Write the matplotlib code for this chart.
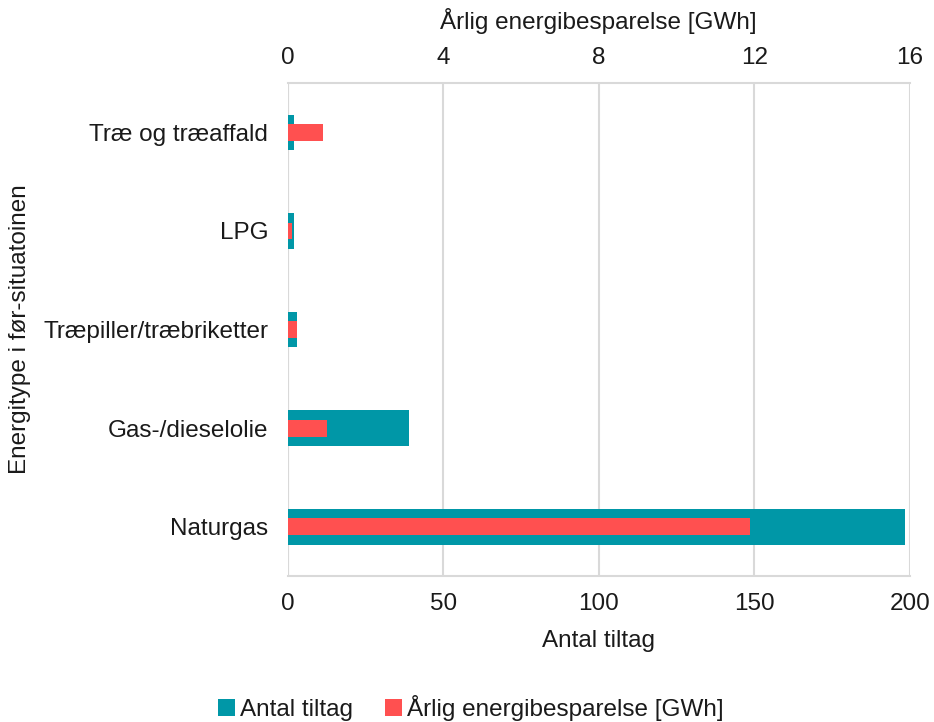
import matplotlib
matplotlib.use("Agg")
import matplotlib.pyplot as plt
import numpy as np

plt.rcParams['font.family'] = ['Liberation Sans', 'DejaVu Sans']

# data (top to bottom as in the chart)
kategorier = ["Træ og træaffald", "LPG", "Træpiller/træbriketter", "Gas-/dieselolie", "Naturgas"]
antal_tiltag = [2, 2, 3, 39, 198.5]
besparelse_gwh = [0.9, 0.1, 0.25, 1.0, 11.9]

teal = "#0097A7"
roed = "#FF5050"
tekst = "#1a1a1a"
grid = "#D9D9D9"
fs = 17.5

fig = plt.figure(figsize=(9.34, 7.22), dpi=100)
ax = fig.add_axes([0.308, 0.202, 0.666, 0.683])
y = np.arange(len(kategorier))

ax.barh(y, antal_tiltag, height=0.36, color=teal, zorder=2, label="Antal tiltag")
ax.set_xlim(0, 200)
ax.set_xticks([0, 50, 100, 150, 200])
ax.set_ylim(len(kategorier) - 0.5, -0.5)
ax.set_yticks(y)
ax.set_yticklabels(kategorier)
ax.set_xlabel("Antal tiltag", fontsize=fs, color=tekst, labelpad=11)
ax.set_ylabel("Energitype i før-situatoinen", fontsize=fs, color=tekst)
ax.xaxis.grid(True, color=grid, linewidth=1.5, zorder=0)
ax.set_axisbelow(True)

ax2 = ax.twiny()
ax2.patch.set_visible(False)
ax2.barh(y, besparelse_gwh, height=0.17, color=roed, zorder=3, label="Årlig energibesparelse [GWh]")
ax2.set_xlim(0, 16)
ax2.set_xticks([0, 4, 8, 12, 16])
ax2.set_xlabel("Årlig energibesparelse [GWh]", fontsize=fs, color=tekst, labelpad=13)

for a in (ax, ax2):
    for s in a.spines.values():
        s.set_visible(False)
    a.tick_params(length=0, labelsize=fs, labelcolor=tekst)
for side in ("top", "bottom"):
    ax.spines[side].set_visible(True)
    ax.spines[side].set_color(grid)
    ax.spines[side].set_linewidth(1.5)
ax.tick_params(axis='y', pad=14)
ax.tick_params(axis='x', pad=12)
ax2.tick_params(axis='x', pad=10)
ax.axvline(0, color=grid, linewidth=1.5, zorder=1)
ax.yaxis.set_label_coords(-0.412, 0.5)

h1, l1 = ax.get_legend_handles_labels()
h2, l2 = ax2.get_legend_handles_labels()
fig.legend(h1 + h2, l1 + l2, loc='center', bbox_to_anchor=(0.504, 0.02), ncol=2,
           frameon=False, fontsize=fs, handlelength=0.7, handleheight=0.7,
           handletextpad=0.2, columnspacing=1.3, labelcolor=tekst)

fig.savefig("out.png", dpi=100)
